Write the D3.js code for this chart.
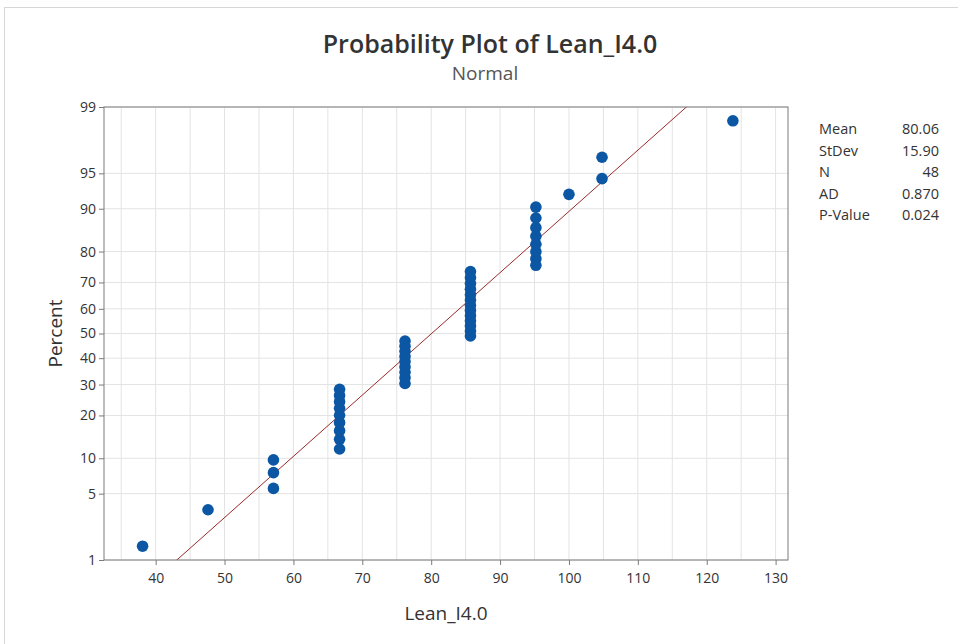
<!DOCTYPE html>
<html>
<head>
<meta charset="utf-8">
<title>Probability Plot of Lean_I4.0</title>
<script src="https://d3js.org/d3.v7.min.js"></script>
<style>
  body { margin: 0; background: #fff; }
  svg { display: block; font-family: "Open Sans", "Noto Sans", sans-serif; }
</style>
</head>
<body>
<div id="chart"></div>
<script>
// sorted observations (48 values)
const leanValues = [
  38.1, 47.6,
  57.1, 57.1, 57.1,
  66.7, 66.7, 66.7, 66.7, 66.7, 66.7, 66.7, 66.7, 66.7,
  76.2, 76.2, 76.2, 76.2, 76.2, 76.2, 76.2, 76.2, 76.2,
  85.7, 85.7, 85.7, 85.7, 85.7, 85.7, 85.7, 85.7, 85.7, 85.7, 85.7, 85.7, 85.7,
  95.2, 95.2, 95.2, 95.2, 95.2, 95.2, 95.2, 95.2,
  100.0,
  104.8, 104.8,
  123.8
];
const xTicks = [40, 50, 60, 70, 80, 90, 100, 110, 120, 130];
const xGrid = [35, 40, 45, 50, 55, 60, 65, 70, 75, 80, 85, 90, 95, 100, 105, 110, 115, 120, 125, 130];
const yTicks = [1, 5, 10, 20, 30, 40, 50, 60, 70, 80, 90, 95, 99];
const statLabels = ["Mean", "StDev", "N", "AD", "P-Value"];
const statValues = ["80.06", "15.90", "48", "0.870", "0.024"];
const fitMean = 80.06, fitSd = 15.90;

// inverse normal cdf (Acklam)
function probit(p) {
  const a = [-3.969683028665376e+01, 2.209460984245205e+02, -2.759285104469687e+02, 1.383577518672690e+02, -3.066479806614716e+01, 2.506628277459239e+00];
  const b = [-5.447609879822406e+01, 1.615858368580409e+02, -1.556989798598866e+02, 6.680131188771972e+01, -1.328068155288572e+01];
  const c = [-7.784894002430293e-03, -3.223964580411365e-01, -2.400758277161838e+00, -2.549732539343734e+00, 4.374664141464968e+00, 2.938163982698783e+00];
  const d = [7.784695709041462e-03, 3.224671290700398e-01, 2.445134137142996e+00, 3.754408661907416e+00];
  const pl = 0.02425;
  let q, r;
  if (p < pl) {
    q = Math.sqrt(-2 * Math.log(p));
    return (((((c[0]*q+c[1])*q+c[2])*q+c[3])*q+c[4])*q+c[5]) / ((((d[0]*q+d[1])*q+d[2])*q+d[3])*q+1);
  }
  if (p <= 1 - pl) {
    q = p - 0.5; r = q*q;
    return (((((a[0]*r+a[1])*r+a[2])*r+a[3])*r+a[4])*r+a[5])*q / (((((b[0]*r+b[1])*r+b[2])*r+b[3])*r+b[4])*r+1);
  }
  q = Math.sqrt(-2 * Math.log(1 - p));
  return -(((((c[0]*q+c[1])*q+c[2])*q+c[3])*q+c[4])*q+c[5]) / ((((d[0]*q+d[1])*q+d[2])*q+d[3])*q+1);
}

const n = leanValues.length;
// median ranks, Minitab default
const points = leanValues.map((v, i) => ({x: v, p: (i + 1 - 0.3) / (n + 0.4)}));

const W = 958, H = 644;
const plot = {left: 104, right: 788, top: 107, bottom: 560};

const svg = d3.select("#chart").append("svg")
  .attr("width", W).attr("height", H);

svg.append("rect")
  .attr("x", 4.5).attr("y", 7.5)
  .attr("width", 970).attr("height", 680)
  .attr("fill", "#fff")
  .attr("stroke", "#d6d6d6");

const x = d3.scaleLinear().domain([32.5, 131.8]).range([plot.left, plot.right]);
const z = d3.scaleLinear().domain([probit(0.01), probit(0.99)]).range([plot.bottom, plot.top]);
const y = pct => z(probit(pct));

// grid
svg.append("g").selectAll("line").data(xGrid).join("line")
  .attr("x1", d => x(d)).attr("x2", d => x(d))
  .attr("y1", plot.top).attr("y2", plot.bottom)
  .attr("stroke", "#e3e3e3").attr("stroke-width", 1);

svg.append("g").selectAll("line").data(yTicks).join("line")
  .attr("x1", plot.left).attr("x2", plot.right)
  .attr("y1", d => y(d / 100)).attr("y2", d => y(d / 100))
  .attr("stroke", "#e3e3e3").attr("stroke-width", 1);

// fitted line
svg.append("clipPath").attr("id", "clip")
  .append("rect").attr("x", plot.left).attr("y", plot.top)
  .attr("width", plot.right - plot.left).attr("height", plot.bottom - plot.top);

const zLo = probit(0.001), zHi = probit(0.999);
svg.append("line")
  .attr("clip-path", "url(#clip)")
  .attr("x1", x(fitMean + zLo * fitSd)).attr("y1", z(zLo))
  .attr("x2", x(fitMean + zHi * fitSd)).attr("y2", z(zHi))
  .attr("stroke", "#9b2a2a").attr("stroke-width", 1);

// points
svg.append("g").selectAll("circle").data(points).join("circle")
  .attr("cx", d => x(d.x))
  .attr("cy", d => y(d.p))
  .attr("r", 5.8)
  .attr("fill", "#0b57a4");

// frame
svg.append("rect")
  .attr("x", plot.left).attr("y", plot.top)
  .attr("width", plot.right - plot.left).attr("height", plot.bottom - plot.top)
  .attr("fill", "none").attr("stroke", "#7a7a7a");

// axes
const xAxis = svg.append("g")
  .attr("transform", "translate(0," + plot.bottom + ")")
  .call(d3.axisBottom(x).tickValues(xTicks).tickSize(5).tickPadding(8));
const yAxis = svg.append("g")
  .attr("transform", "translate(" + plot.left + ",0)")
  .call(d3.axisLeft(z).tickValues(yTicks.map(p => probit(p / 100)))
    .tickFormat((d, i) => yTicks[i]).tickSize(5).tickPadding(3));

[xAxis, yAxis].forEach(g => {
  g.select(".domain").remove();
  g.selectAll("line").attr("stroke", "#7a7a7a");
  g.selectAll("text").attr("font-size", 14).attr("fill", "#333")
    .attr("font-family", "'Open Sans', sans-serif");
});

// titles
svg.append("text")
  .attr("x", 490).attr("y", 53)
  .attr("text-anchor", "middle")
  .attr("font-size", 25).attr("font-weight", 600).attr("fill", "#333")
  .text("Probability Plot of Lean_I4.0");

svg.append("text")
  .attr("x", 485).attr("y", 80)
  .attr("text-anchor", "middle")
  .attr("font-size", 19).attr("fill", "#555")
  .text("Normal");

svg.append("text")
  .attr("x", (plot.left + plot.right) / 2).attr("y", 620)
  .attr("text-anchor", "middle")
  .attr("font-size", 19).attr("fill", "#333")
  .text("Lean_I4.0");

svg.append("text")
  .attr("transform", "translate(62," + ((plot.top + plot.bottom) / 2) + ") rotate(-90)")
  .attr("text-anchor", "middle")
  .attr("font-size", 19).attr("fill", "#333")
  .text("Percent");

// stats box
const stats = svg.append("g").attr("font-size", 14.5).attr("fill", "#333");
stats.selectAll("text.lab").data(statLabels).join("text")
  .attr("class", "lab")
  .attr("x", 819).attr("y", (d, i) => 134 + i * 21.6)
  .text(d => d);
stats.selectAll("text.val").data(statValues).join("text")
  .attr("class", "val")
  .attr("x", 939).attr("y", (d, i) => 134 + i * 21.6)
  .attr("text-anchor", "end")
  .text(d => d);
</script>
</body>
</html>
